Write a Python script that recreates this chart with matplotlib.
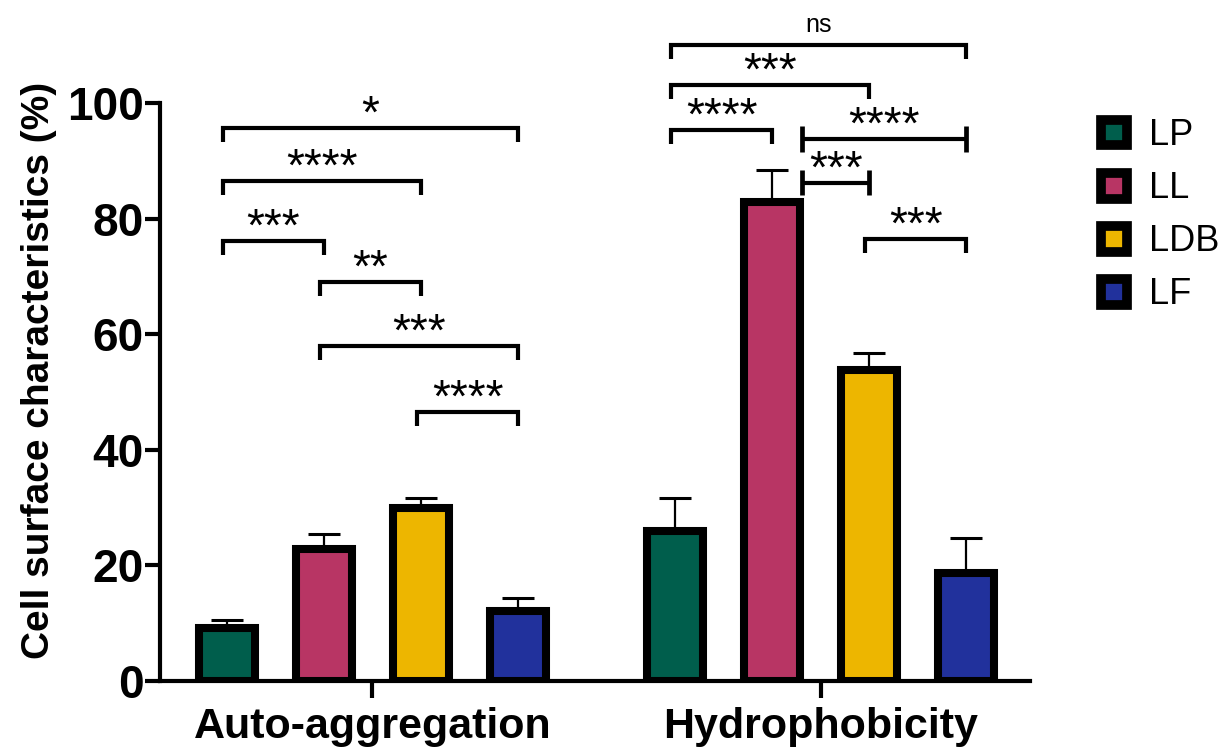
import matplotlib
matplotlib.use("Agg")
import matplotlib.pyplot as plt
from matplotlib.patches import Patch

plt.rcParams['font.family'] = ['Liberation Sans', 'DejaVu Sans']

# group means and upper SD for each strain
categories = ['Auto-aggregation', 'Hydrophobicity']
strains = ['LP', 'LL', 'LDB', 'LF']
colors = ['#005E4C', '#B83564', '#EDB600', '#21319C']
means = {
    'LP': [9.1, 26.0],
    'LL': [22.8, 82.8],
    'LDB': [29.9, 53.8],
    'LF': [12.1, 18.7],
}
errs = {
    'LP': [1.5, 5.7],
    'LL': [2.6, 5.6],
    'LDB': [1.8, 2.9],
    'LF': [2.3, 6.0],
}

# significance brackets: (group, left bar, right bar, height, label, style)
brackets = [
    (0, 0, 3, 95.7, '*', 'down'),
    (0, 0, 2, 86.5, '****', 'down'),
    (0, 0, 1, 76.1, '***', 'down'),
    (0, 1, 2, 69.0, '**', 'down'),
    (0, 1, 3, 58.0, '***', 'down'),
    (0, 2, 3, 46.5, '****', 'down'),
    (1, 0, 3, 110.0, 'ns', 'down'),
    (1, 0, 2, 103.1, '***', 'down'),
    (1, 0, 1, 95.3, '****', 'down'),
    (1, 1, 3, 93.8, '****', 'both'),
    (1, 1, 2, 86.2, '***', 'both'),
    (1, 2, 3, 76.5, '***', 'down'),
]

group_x = [0, 4.62]
bar_w = 0.57

fig = plt.figure(figsize=(12.18, 7.53), dpi=100)
ax = fig.add_axes([0.1314, 0.0956, 0.7143, 0.7676])

def bar_pos(g, i):
    return group_x[g] + (i - 1.5)

for i, s in enumerate(strains):
    xs = [bar_pos(g, i) for g in range(len(categories))]
    ax.bar(xs, means[s], width=bar_w, color=colors[i], edgecolor='black',
           linewidth=5.8, zorder=3)
    ax.errorbar(xs, means[s], yerr=[[0] * len(xs), errs[s]], fmt='none',
                ecolor='black', elinewidth=1.6, capsize=11.5, capthick=2.2, zorder=2)

leg = 2.4
for g, a, b, y, label, style in brackets:
    x0 = bar_pos(g, a) - 0.04
    x1 = bar_pos(g, b)
    if style == 'both':
        x0 = bar_pos(g, a) + 0.31
        ax.plot([x0, x1], [y, y], color='black', lw=3, clip_on=False, solid_capstyle='butt')
        for x in (x0, x1):
            ax.plot([x, x], [y - 2.2, y + 2.2], color='black', lw=3.4, clip_on=False,
                    solid_capstyle='butt')
    else:
        ax.plot([x0, x0, x1, x1], [y - leg, y, y, y - leg], color='black', lw=3,
                clip_on=False, solid_joinstyle='miter', solid_capstyle='butt')
    if label == 'ns':
        ax.text((x0 + x1) / 2, y + 2.3, label, ha='center', va='baseline', fontsize=18,
                clip_on=False)
    else:
        ax.text((x0 + x1) / 2, y + 0.1, label, ha='center', va='baseline', fontsize=33,
                clip_on=False)

ax.set_ylim(0, 100)
ax.set_xlim(-2.19, 6.78)
ax.set_yticks([0, 20, 40, 60, 80, 100])
ax.set_xticks(group_x)
ax.set_xticklabels(categories, fontsize=31, fontweight='bold')
ax.tick_params(axis='y', labelsize=33, width=3, length=11, pad=1)
ax.tick_params(axis='x', width=3, length=12, pad=7)
for lab in ax.get_yticklabels():
    lab.set_fontweight('bold')
ax.set_ylabel('Cell surface characteristics (%)', fontsize=28, fontweight='bold')
ax.yaxis.set_label_coords(-0.118, 0.538)

for side in ('top', 'right'):
    ax.spines[side].set_visible(False)
for side in ('left', 'bottom'):
    ax.spines[side].set_linewidth(3)

handles = [Patch(facecolor=c, edgecolor='black', linewidth=7, label=s)
           for s, c in zip(strains, colors)]
fig.legend(handles=handles, loc='upper left', bbox_to_anchor=(0.904, 0.843),
           frameon=False, fontsize=26, handlelength=0.72, handleheight=0.72,
           handletextpad=0.6, labelspacing=0.5, borderpad=0, borderaxespad=0)

fig.savefig('out.png', dpi=100)
